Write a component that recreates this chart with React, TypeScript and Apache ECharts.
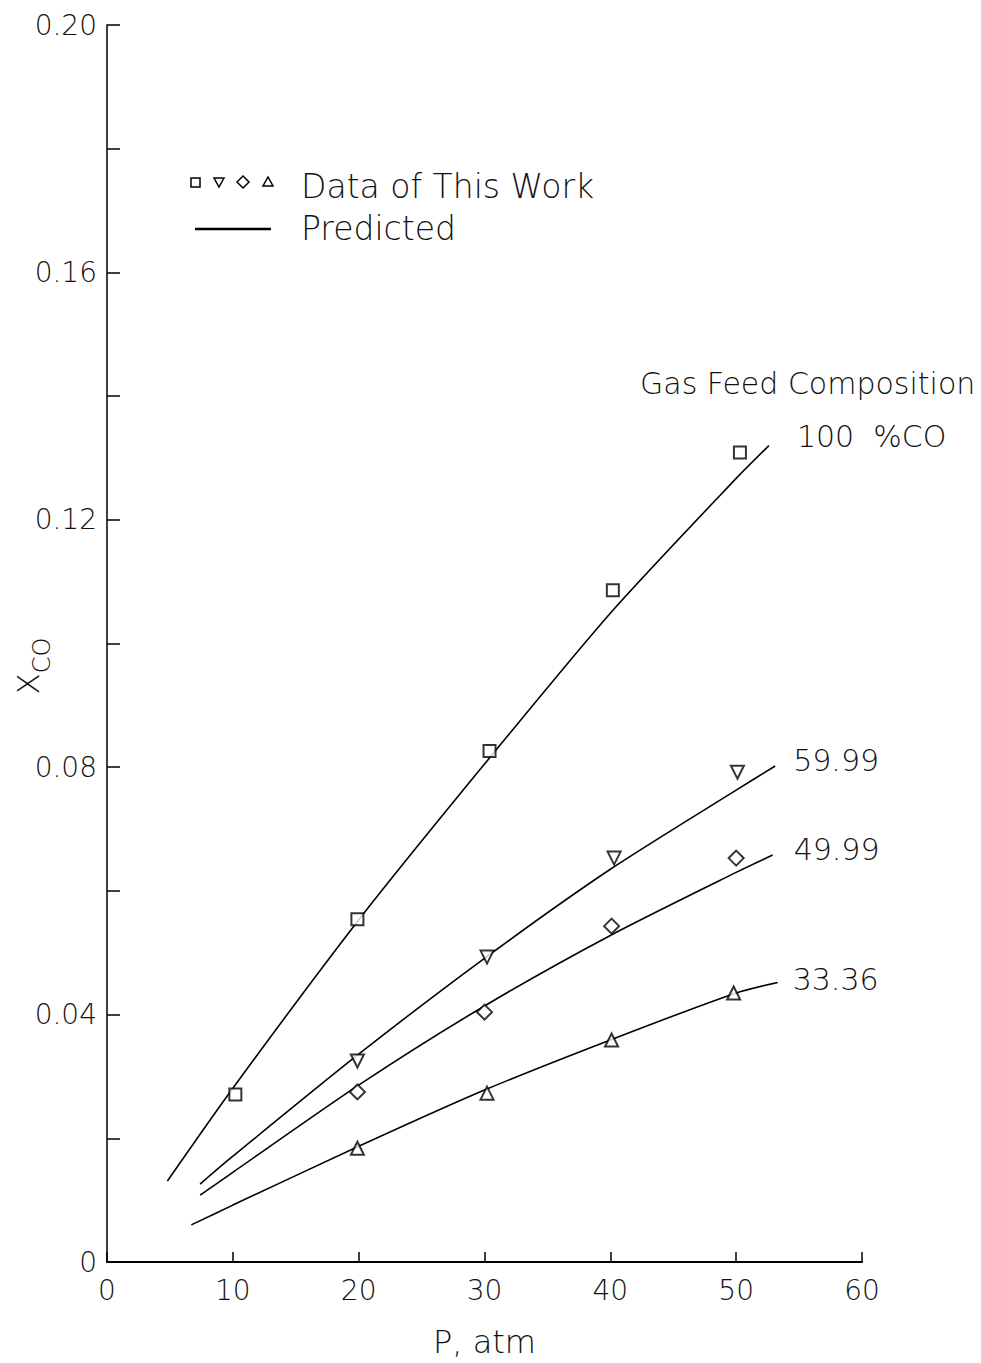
import React, { useEffect, useRef } from "react";
import * as echarts from "echarts";

const FONT = "DejaVu Sans";
const INK = "#111";
const W = 200;

// Experimental data (P, atm ; x_CO) for each gas feed composition
const squareP = [10.2, 19.9, 30.4, 40.2, 50.3];
const squareX = [0.0271, 0.0554, 0.0826, 0.1086, 0.1309];
const downP = [19.9, 30.2, 40.3, 50.1];
const downX = [0.0325, 0.0493, 0.0653, 0.0792];
const diamondP = [19.9, 30.0, 40.1, 50.0];
const diamondX = [0.0275, 0.0404, 0.0543, 0.0653];
const upP = [19.9, 30.2, 40.1, 49.8];
const upX = [0.0184, 0.0273, 0.0359, 0.0435];

// Predicted curves
const pred100P = [4.8, 10, 20, 30, 40, 50, 52.6];
const pred100X = [0.0131, 0.0281, 0.0553, 0.0805, 0.1049, 0.1267, 0.132];
const pred5999P = [7.4, 10, 20, 30, 40, 50, 53.1];
const pred5999X = [0.0126, 0.0171, 0.0336, 0.0491, 0.0635, 0.0763, 0.0802];
const pred4999P = [7.4, 10, 20, 30, 40, 50, 52.9];
const pred4999X = [0.0108, 0.0145, 0.0286, 0.0414, 0.0528, 0.063, 0.0658];
const pred3336P = [6.7, 10, 20, 30, 40, 50, 53.3];
const pred3336X = [0.006, 0.0092, 0.0187, 0.0278, 0.0359, 0.0435, 0.0452];

const compositionLabels = ["100  %CO", "59.99", "49.99", "33.36"];
const legendDataText = "Data of This Work";
const legendLineText = "Predicted";
const compositionTitle = "Gas Feed Composition";
const xAxisName = "P, atm";

const zip = (a: number[], b: number[]) => a.map((v, i) => [v, b[i]]);

const lineSeries = (
  name: string,
  P: number[],
  X: number[],
  distance: number,
  dy: number
) => ({
  type: "line",
  name,
  data: zip(P, X),
  symbol: "none",
  showSymbol: false,
  smooth: 0.25,
  silent: true,
  z: 2,
  lineStyle: { color: "#000", width: 1.6 },
  endLabel: {
    show: true,
    formatter: name,
    distance,
    offset: [0, dy],
    fontFamily: FONT,
    fontWeight: W,
    fontSize: 30,
    color: INK,
  },
});

const scatterSeries = (
  name: string,
  P: number[],
  X: number[],
  symbol: string,
  size: number,
  rotate = 0
) => ({
  type: "scatter",
  name,
  data: zip(P, X),
  symbol,
  symbolSize: size,
  symbolRotate: rotate,
  z: 3,
  itemStyle: { color: "#fff", borderColor: "#000", borderWidth: 2 },
});

export default function App() {
  const ref = useRef<HTMLDivElement>(null);

  useEffect(() => {
    if (!ref.current) return;
    const chart = echarts.init(ref.current, null, { renderer: "svg" });
    const lx = 195;
    const ly = 182;
    chart.setOption({
      animation: false,
      backgroundColor: "#fff",
      grid: { left: 107, right: 119, top: 25, bottom: 99, containLabel: false },
      xAxis: {
        type: "value",
        min: 0,
        max: 60,
        interval: 10,
        name: xAxisName,
        nameLocation: "middle",
        nameGap: 64,
        nameTextStyle: { fontFamily: FONT, fontWeight: W, fontSize: 32, color: INK },
        axisLine: { show: true, lineStyle: { color: "#000", width: 2.2 } },
        axisTick: { show: true, inside: true, length: 10, lineStyle: { color: "#000", width: 1.5 } },
        axisLabel: { fontFamily: FONT, fontWeight: W, fontSize: 28, color: INK, margin: 14 },
        splitLine: { show: false },
      },
      yAxis: {
        type: "value",
        min: 0,
        max: 0.2,
        interval: 0.02,
        axisLine: { show: true, lineStyle: { color: "#000", width: 1.5 } },
        axisTick: { show: true, inside: true, length: 13, lineStyle: { color: "#000", width: 1.5 } },
        axisLabel: {
          fontFamily: FONT,
          fontWeight: W,
          fontSize: 28,
          color: INK,
          margin: 10,
          formatter: (v: number) => {
            if (Math.abs(v) < 1e-9) return "0";
            return Math.round(v * 100) % 4 === 0 ? v.toFixed(2) : "";
          },
        },
        splitLine: { show: false },
      },
      series: [
        lineSeries(compositionLabels[0], pred100P, pred100X, 28, -9),
        lineSeries(compositionLabels[1], pred5999P, pred5999X, 18, -5),
        lineSeries(compositionLabels[2], pred4999P, pred4999X, 21, -6),
        lineSeries(compositionLabels[3], pred3336P, pred3336X, 15, -3),
        scatterSeries("100 %CO data", squareP, squareX, "rect", 12),
        scatterSeries("59.99 data", downP, downX, "triangle", 13, 180),
        scatterSeries("49.99 data", diamondP, diamondX, "diamond", 15),
        scatterSeries("33.36 data", upP, upX, "triangle", 13),
      ],
      graphic: [
        // legend symbols
        { type: "rect", shape: { x: lx - 4, y: ly - 4, width: 9, height: 9 }, style: { fill: "#fff", stroke: "#000", lineWidth: 1.5 } },
        { type: "polygon", shape: { points: [[214, ly - 4], [224, ly - 4], [219, ly + 5]] }, style: { fill: "#fff", stroke: "#000", lineWidth: 1.5 } },
        { type: "polygon", shape: { points: [[243, ly - 6], [249, ly], [243, ly + 6], [237, ly]] }, style: { fill: "#fff", stroke: "#000", lineWidth: 1.5 } },
        { type: "polygon", shape: { points: [[263, ly + 4], [273, ly + 4], [268, ly - 5]] }, style: { fill: "#fff", stroke: "#000", lineWidth: 1.5 } },
        { type: "text", x: 301, y: 186, style: { text: legendDataText, fontFamily: FONT, fontWeight: W, fontSize: 33, fill: INK, verticalAlign: "middle", align: "left" } },
        { type: "line", shape: { x1: 195, y1: 229, x2: 271, y2: 229 }, style: { stroke: "#000", lineWidth: 2.5 } },
        { type: "text", x: 301, y: 228, style: { text: legendLineText, fontFamily: FONT, fontWeight: W, fontSize: 33, fill: INK, verticalAlign: "middle", align: "left" } },
        // composition title
        { type: "text", x: 640, y: 383, style: { text: compositionTitle, fontFamily: FONT, fontWeight: W, fontSize: 30, fill: INK, verticalAlign: "middle", align: "left" } },
        // y axis name: X_CO
        {
          type: "text",
          x: 28,
          y: 666,
          rotation: Math.PI / 2,
          style: {
            text: "{a|X}{b|CO}",
            align: "center",
            verticalAlign: "middle",
            rich: {
              a: { fontFamily: FONT, fontWeight: W, fontSize: 31, fill: INK, color: INK, lineHeight: 52, verticalAlign: "middle" },
              b: { fontFamily: FONT, fontWeight: W, fontSize: 24, fill: INK, color: INK, lineHeight: 52, verticalAlign: "bottom" },
            },
          },
        },
      ],
    });
    return () => chart.dispose();
  }, []);

  return (
    <div
      ref={ref}
      style={{ position: "absolute", left: 0, top: 0, width: 981, height: 1363, background: "#fff" }}
    />
  );
}
